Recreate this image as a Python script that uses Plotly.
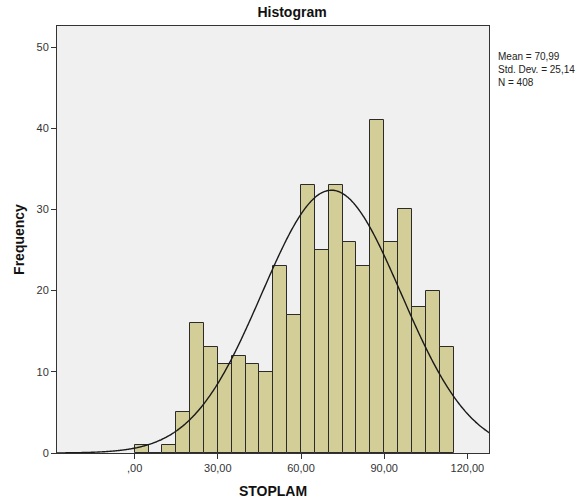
import numpy as np
import plotly.graph_objects as go

# Histogram data (bin width 5, starting at 0)
bin_starts = [0, 5, 10, 15, 20, 25, 30, 35, 40, 45, 50, 55, 60, 65, 70, 75, 80, 85, 90, 95, 100, 105, 110]
counts = [1, 0, 1, 5, 16, 13, 11, 12, 11, 10, 23, 17, 33, 25, 33, 26, 23, 41, 26, 30, 18, 20, 13]
bin_width = 5
mean = 70.99
std = 25.14
n = 408

x_tickvals = [0, 30, 60, 90, 120]
x_ticktext = [",00", "30,00", "60,00", "90,00", "120,00"]
y_tickvals = [0, 10, 20, 30, 40, 50]

centers = [b + bin_width / 2 for b in bin_starts]

xs = np.linspace(-28, 128, 400)
ys = n * bin_width / (std * np.sqrt(2 * np.pi)) * np.exp(-0.5 * ((xs - mean) / std) ** 2)

fig = go.Figure()
fig.add_trace(go.Bar(
    x=centers, y=counts, width=bin_width,
    marker=dict(color="#D3CE98", line=dict(color="#2b2b2b", width=1)),
    hoverinfo="skip",
))
fig.add_trace(go.Scatter(
    x=xs, y=ys, mode="lines",
    line=dict(color="#1a1a1a", width=1.4, shape="spline"),
    hoverinfo="skip",
))

font_family = "Liberation Sans, Arial, sans-serif"

fig.update_layout(
    width=580, height=504,
    margin=dict(l=57, r=91, t=26, b=51),
    paper_bgcolor="white",
    plot_bgcolor="#F0F0F0",
    showlegend=False,
    bargap=0,
    font=dict(family=font_family, size=11, color="#333333"),
    title=dict(text="<b>Histogram</b>", x=(292 - 57) / (489 - 57), xref="paper", xanchor="center",
               y=1 - 12 / 504, yref="container", yanchor="middle",
               font=dict(size=14, color="#111111")),
)

fig.update_xaxes(
    range=[-28, 127.8],
    tickvals=x_tickvals, ticktext=x_ticktext,
    ticks="outside", ticklen=5, tickcolor="#333333",
    showgrid=False, zeroline=False, automargin=False,
    showline=True, linecolor="#333333", linewidth=1, mirror=True,
    title=dict(text="<b>STOPLAM</b>", font=dict(size=14, color="#111111"), standoff=12),
    tickfont=dict(size=11, color="#333333"),
)
fig.update_yaxes(
    range=[0, 52.6],
    tickvals=y_tickvals,
    ticks="outside", ticklen=5, tickcolor="#333333",
    showgrid=False, zeroline=False, automargin=False,
    showline=True, linecolor="#333333", linewidth=1, mirror=True,
    title=dict(text="<b>Frequency</b>", font=dict(size=14, color="#111111"), standoff=8),
    tickfont=dict(size=11, color="#333333"),
)

stats = ["Mean = " + f"{mean:.2f}".replace(".", ","),
         "Std. Dev. = " + f"{std:.2f}".replace(".", ","),
         f"N = {n}"]
fig.add_annotation(
    text="<br>".join(stats), xref="paper", yref="paper",
    x=(496 - 57) / (489 - 57), y=(453 - 49) / (453 - 26),
    xanchor="left", yanchor="top", align="left", showarrow=False,
    font=dict(size=10, color="#222222", family=font_family),
)

fig.write_html("out.html", config={"displayModeBar": False},
               post_script="document.body.style.margin='0';")
